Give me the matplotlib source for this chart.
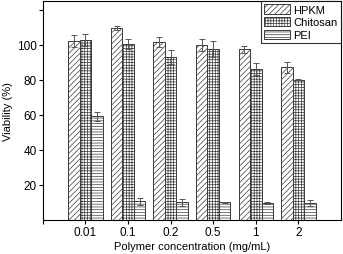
import numpy as np
import matplotlib
matplotlib.use('Agg')
import matplotlib.pyplot as plt

plt.rcParams.update({
    'font.family': ['Liberation Sans', 'DejaVu Sans'],
    'hatch.linewidth': 0.5,
    'axes.linewidth': 0.8,
})

concentrations = ['0.01', '0.1', '0.2', '0.5', '1', '2']
series = ['HPKM', 'Chitosan', 'PEI']
hpkm = [102, 109.5, 101.5, 100, 97.5, 87]
hpkm_err = [3.5, 1.0, 3.0, 3.5, 2.0, 3.0]
chitosan = [102.5, 100.5, 93, 97.5, 86, 80]
chitosan_err = [3.5, 3.0, 4.0, 4.5, 3.5, 0.3]
pei = [59, 10.5, 10, 10, 9.5, 9.5]
pei_err = [2.5, 2.0, 2.0, 0.3, 0.7, 1.5]

hatches = ['//////', '++++++', '------']
EDGE = '#3a3a3a'

fig = plt.figure(figsize=(3.43, 2.55), dpi=100)
ax = fig.add_axes([0.125, 0.135, 0.869, 0.857])

x = np.arange(1, len(concentrations) + 1)
w = 0.27
for i, (vals, errs, name) in enumerate(zip([hpkm, chitosan, pei],
                                           [hpkm_err, chitosan_err, pei_err], series)):
    ax.bar(x + (i - 1) * w, vals, width=w, color='white', edgecolor=EDGE,
           hatch=hatches[i], linewidth=0.7, label=name,
           yerr=errs, capsize=2.2, ecolor='#555555',
           error_kw={'elinewidth': 0.7, 'capthick': 0.7})

ax.set_xlim(0, 7)
ax.set_ylim(0, 125)
ax.set_yticks([20, 40, 60, 80, 100, 120])
ax.set_yticklabels(['20', '40', '60', '80', '100', ''])
ax.set_xticks(np.arange(0, 7))
ax.set_xticklabels([''] + concentrations)
ax.tick_params(labelsize=8.5, length=3, width=0.8, colors='black', pad=1.5)
ax.set_xlabel('Polymer concentration (mg/mL)', fontsize=8, labelpad=2)
ax.set_ylabel('Viability (%)', fontsize=8, labelpad=3)

leg = ax.legend(loc='upper right', fontsize=8, frameon=True, fancybox=False,
                edgecolor='black', handlelength=2.3, handleheight=0.9,
                borderaxespad=0.0, borderpad=0.3, labelspacing=0.2,
                handletextpad=0.3)
leg.get_frame().set_linewidth(0.8)

fig.savefig('out.png', dpi=100)
